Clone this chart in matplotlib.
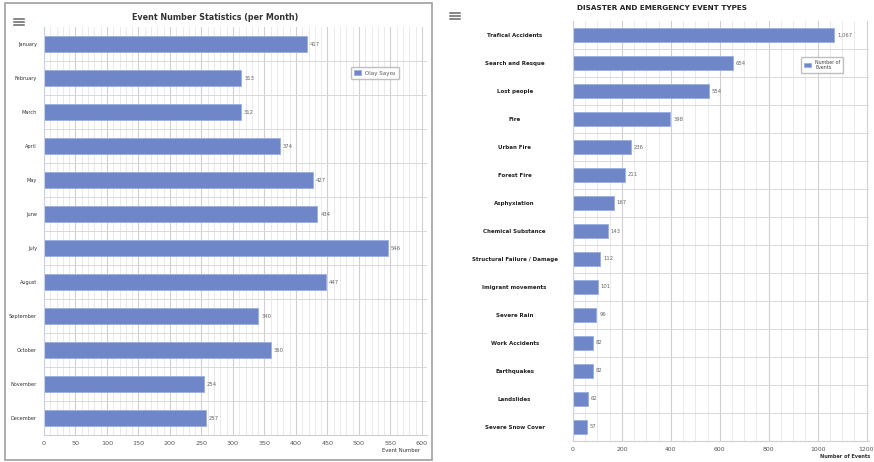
import numpy as np
import matplotlib.pyplot as plt
from matplotlib.patches import Rectangle
from matplotlib.lines import Line2D

months = ['January', 'February', 'March', 'April', 'May', 'June', 'July',
          'August', 'September', 'October', 'November', 'December']
month_counts = [417, 313, 312, 374, 427, 434, 546, 447, 340, 360, 254, 257]

event_types = ['Trafical Accidents', 'Search and Resque', 'Lost people', 'Fire',
               'Urban Fire', 'Forest Fire', 'Asphyxiation', 'Chemical Substance',
               'Structural Failure / Damage', 'Imigrant movements', 'Severe Rain',
               'Work Accidents', 'Earthquakes', 'Landslides', 'Severe Snow Cover']
type_counts = [1067, 654, 554, 398, 236, 211, 167, 143, 112, 101, 96, 82, 82, 62, 57]

BAR = '#6f87c9'
EDGE = '#9aaee0'
W, H = 874, 462


def px(x, y, w, h):
    # pixel box (top-left origin) -> figure fraction rect
    return [x / W, (H - y - h) / H, w / W, h / H]


def grid_setup(ax, n, top, major, minor):
    ax.set_xticks(np.arange(0, top + 1, major))
    ax.set_xticks(np.arange(0, top + 1, minor), minor=True)
    ax.set_yticks(np.arange(n) + 0.5, minor=True)
    ax.grid(True, which='major', axis='x', color='#d0d0d0', lw=0.8)
    ax.grid(True, which='minor', axis='x', color='#e6e6e6', lw=0.6)
    ax.grid(True, which='minor', axis='y', color='#d8d8d8', lw=0.7)
    ax.set_axisbelow(True)
    for s in ['top', 'right']:
        ax.spines[s].set_visible(False)
    ax.spines['left'].set_color('#c8d0e8')
    ax.spines['bottom'].set_color('#d0d0d0')
    ax.tick_params(which='both', length=0)


def hamburger(fig, x, y, w=10):
    for dy in (-3, 0, 3):
        fig.add_artist(Line2D([x / W, (x + w) / W], [(H - y - dy) / H] * 2,
                              color='#666666', lw=1.1))


fig = plt.figure(figsize=(W / 100, H / 100), dpi=100)

# ---- left panel ----
fig.add_artist(Rectangle((5 / W, 2 / H), 427 / W, 457 / H, transform=fig.transFigure,
                         fill=False, ec='#a0a0a0', lw=1.2))
hamburger(fig, 14, 22)
fig.text(215 / W, 1 - 17 / H, 'Event Number Statistics (per Month)', ha='center',
         va='center', fontsize=5.8, fontweight='bold', color='#333333')

ax1 = fig.add_axes(px(44, 27, 383, 408))
y1 = np.arange(len(months))
ax1.barh(y1, month_counts, height=0.48, color=BAR, edgecolor=EDGE, lw=0.6,
         label='Olay Sayısı')
grid_setup(ax1, len(months), 600, 50, 10)
ax1.set_ylim(len(months) - 0.5, -0.5)
ax1.set_xlim(0, 608)
ax1.set_yticks(y1)
ax1.set_yticklabels(months, fontsize=3.6, color='#333333')
ax1.tick_params(axis='y', pad=5)
ax1.tick_params(axis='x', labelsize=4.6, labelcolor='#555555', pad=4)
for i, v in enumerate(month_counts):
    ax1.text(v + 5, i, str(v), va='center', fontsize=3.8, color='#666666')
ax1.legend(loc='center', bbox_to_anchor=(375 / W, 1 - 73 / H),
           bbox_transform=fig.transFigure, fontsize=4.0, frameon=True,
           edgecolor='#b0b0b0', handlelength=1.2, handleheight=1.0,
           borderpad=0.6, labelcolor='#555555')
fig.text(420 / W, 1 - 451 / H, 'Event Number', ha='right', va='center',
         fontsize=3.8, color='#333333')

# ---- right panel ----
hamburger(fig, 450, 16)
fig.text(577 / W, 1 - 8 / H, 'DISASTER AND EMERGENCY EVENT TYPES', ha='left',
         va='center', fontsize=5.2, fontweight='bold', color='#222222')

ax2 = fig.add_axes(px(573, 21, 296, 420))
y2 = np.arange(len(event_types))
ax2.barh(y2, type_counts, height=0.47, color=BAR, edgecolor=EDGE, lw=0.6,
         label='Number of\nEvents')
grid_setup(ax2, len(event_types), 1200, 200, 50)
ax2.set_ylim(len(event_types) - 0.5, -0.5)
ax2.set_xlim(0, 1210)
ax2.set_yticks(y2)
ax2.set_yticklabels(event_types, fontsize=4.0, fontweight='bold', color='#222222',
                    ha='center')
ax2.tick_params(axis='y', pad=42)
ax2.tick_params(axis='x', labelsize=4.4, labelcolor='#555555', pad=4)
for i, v in enumerate(type_counts):
    ax2.text(v + 12, i, f'{v:,}', va='center', fontsize=3.8, color='#666666')
ax2.legend(loc='center', bbox_to_anchor=(822 / W, 1 - 65 / H),
           bbox_transform=fig.transFigure, fontsize=3.4, frameon=True,
           edgecolor='#b0b0b0', handlelength=1.6, handleheight=1.0,
           borderpad=0.5, labelcolor='#444444')
fig.text(870 / W, 1 - 457 / H, 'Number of Events', ha='right', va='center',
         fontsize=3.6, fontweight='bold', color='#333333')

fig.savefig('out.png', dpi=100)
